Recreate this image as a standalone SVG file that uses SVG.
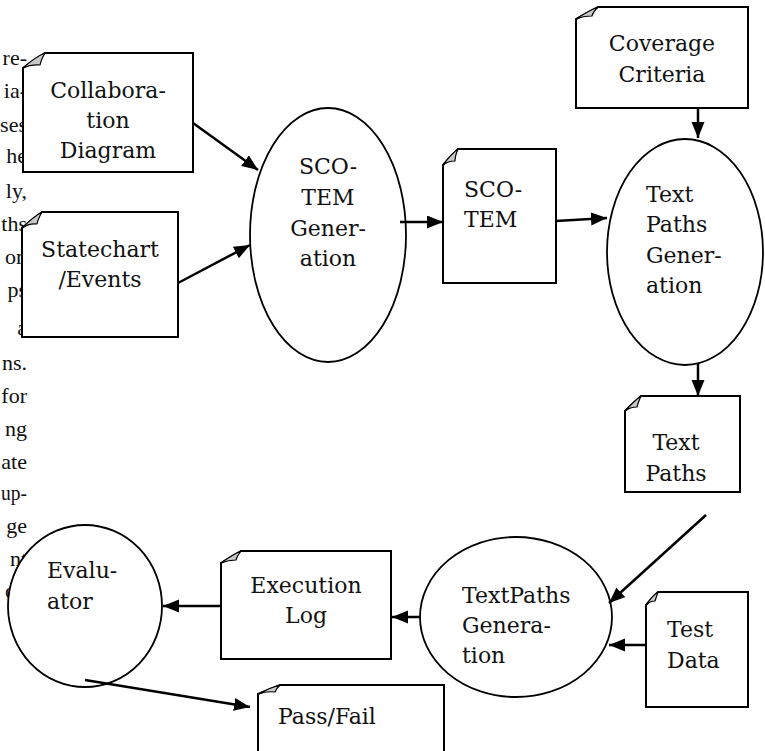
<svg xmlns="http://www.w3.org/2000/svg" width="765" height="751" viewBox="0 0 765 751">
<style>
text{font-family:"DejaVu Serif","Liberation Serif",serif;font-size:22px;fill:#111}
.bg{text-anchor:end;font-family:"Liberation Serif",serif;font-size:22px}
.c{text-anchor:middle}
.box{fill:#fff;stroke:#000;stroke-width:2}
.curl{fill:#c8c8c8;stroke:#000;stroke-width:1.2;stroke-linejoin:round}
.ell{fill:#fff;stroke:#000;stroke-width:1.8}
.con{stroke:#000;stroke-width:2.5;fill:none;marker-end:url(#ah)}
</style>
<defs>
<marker id="ah" markerUnits="userSpaceOnUse" markerWidth="17" markerHeight="14" refX="16" refY="6.5" orient="auto">
<path d="M0,0 L16,6.5 L0,13 Z" fill="#000"/>
</marker>
</defs>
<rect width="765" height="751" fill="#fff"/>
<g id="page-text">
<text class="bg" x="27" y="65">re-</text>
<text class="bg" x="27" y="98">ia-</text>
<text class="bg" x="27" y="132">ses</text>
<text class="bg" x="27" y="163">he</text>
<text class="bg" x="27" y="198">ly,</text>
<text class="bg" x="27" y="231">ths</text>
<text class="bg" x="27" y="264">on</text>
<text class="bg" x="27" y="297">ps</text>
<text class="bg" x="27" y="335">a</text>
<text class="bg" x="27" y="370">ns.</text>
<text class="bg" x="27" y="403">for</text>
<text class="bg" x="27" y="436">ng</text>
<text class="bg" x="27" y="469">ate</text>
<text class="bg" x="27" y="500" textLength="26" lengthAdjust="spacingAndGlyphs">up-</text>
<text class="bg" x="27" y="533">ge</text>
<text class="bg" x="27" y="566">nt</text>
<text class="bg" x="27" y="598">ou</text>
</g>
<g id="n-collab">
<path class="box" d="M45,53 H193 V172 H23 V68 Z"/>
<path class="curl" d="M23,68 Q35,57 45,53 Q41,60 40,65 Q31,64 23,68 Z"/>
<text class="c" x="108" y="98">Collabora-</text>
<text class="c" x="108" y="128">tion</text>
<text class="c" x="108" y="158">Diagram</text>
</g>
<g id="n-statechart">
<path class="box" d="M42,212 H178 V337 H22 V228 Z"/>
<path class="curl" d="M22,228 Q33,217 42,212 Q38,219 37,224 Q29,223 22,228 Z"/>
<text class="c" x="100" y="257">Statechart</text>
<text class="c" x="100" y="287">/Events</text>
</g>
<g id="n-scotem-gen">
<ellipse class="ell" cx="328" cy="235" rx="78" ry="127"/>
<text class="c" x="328" y="174">SCO-</text>
<text class="c" x="328" y="205">TEM</text>
<text class="c" x="328" y="236">Gener-</text>
<text class="c" x="328" y="266">ation</text>
</g>
<g id="n-scotem">
<path class="box" d="M458,149 H556 V283 H443 V165 Z"/>
<path class="curl" d="M443,165 Q451,154 458,149 Q455,156 455,161 Q448,161 443,165 Z"/>
<text x="464" y="197">SCO-</text>
<text x="464" y="227">TEM</text>
</g>
<g id="n-coverage">
<path class="box" d="M598,7 H748 V108 H576 V19 Z"/>
<path class="curl" d="M576,19 Q588,11 598,7 Q593,12 592,16 Q583,16 576,19 Z"/>
<text class="c" x="662" y="51">Coverage</text>
<text class="c" x="662" y="82">Criteria</text>
</g>
<g id="n-textpaths-gen">
<ellipse class="ell" cx="685" cy="252" rx="78" ry="113"/>
<text x="646" y="202">Text</text>
<text x="646" y="232">Paths</text>
<text x="646" y="263">Gener-</text>
<text x="646" y="293">ation</text>
</g>
<g id="n-textpaths">
<path class="box" d="M641,396 H740 V492 H625 V411 Z"/>
<path class="curl" d="M625,411 Q634,401 641,396 Q638,403 637,407 Q630,407 625,411 Z"/>
<text class="c" x="676" y="450">Text</text>
<text class="c" x="676" y="481">Paths</text>
</g>
<g id="n-tp-gen2">
<ellipse class="ell" cx="516" cy="617" rx="96" ry="80"/>
<text x="462" y="603">TextPaths</text>
<text x="462" y="633">Genera-</text>
<text x="462" y="663">tion</text>
</g>
<g id="n-testdata">
<path class="box" d="M658,592 H748 V707 H646 V605 Z"/>
<path class="curl" d="M646,605 Q652,596 658,592 Q656,598 655,601 Q650,601 646,605 Z"/>
<text x="667" y="637">Test</text>
<text x="667" y="668">Data</text>
</g>
<g id="n-execlog">
<path class="box" d="M241,551 H391 V659 H221 V563 Z"/>
<path class="curl" d="M221,563 Q232,555 241,551 Q237,556 236,560 Q228,560 221,563 Z"/>
<text class="c" x="306" y="593">Execution</text>
<text class="c" x="306" y="623">Log</text>
</g>
<g id="n-evaluator">
<ellipse class="ell" cx="85" cy="606" rx="77" ry="81"/>
<text x="47" y="578">Evalu-</text>
<text x="47" y="609">ator</text>
</g>
<g id="n-passfail">
<path class="box" d="M280,685 H444 V765 H258 V694 Z"/>
<path class="curl" d="M258,694 Q269,688 280,685 Q276,689 275,692 Q266,691 258,694 Z"/>
<text x="278" y="724">Pass/Fail</text>
</g>
<g id="connectors">
<line class="con" x1="193" y1="123" x2="258" y2="170"/>
<line class="con" x1="178" y1="283" x2="250" y2="245"/>
<line class="con" x1="400" y1="222" x2="443" y2="222"/>
<line class="con" x1="556" y1="221" x2="607" y2="218"/>
<line class="con" x1="698" y1="108" x2="698" y2="138"/>
<line class="con" x1="698" y1="363" x2="698" y2="396"/>
<line class="con" x1="706" y1="515" x2="609" y2="603"/>
<line class="con" x1="646" y1="645" x2="609" y2="645"/>
<line class="con" x1="420" y1="617" x2="392" y2="617"/>
<line class="con" x1="221" y1="606" x2="163" y2="606"/>
<line class="con" x1="85" y1="680" x2="250" y2="707"/>
</g>
</svg>
